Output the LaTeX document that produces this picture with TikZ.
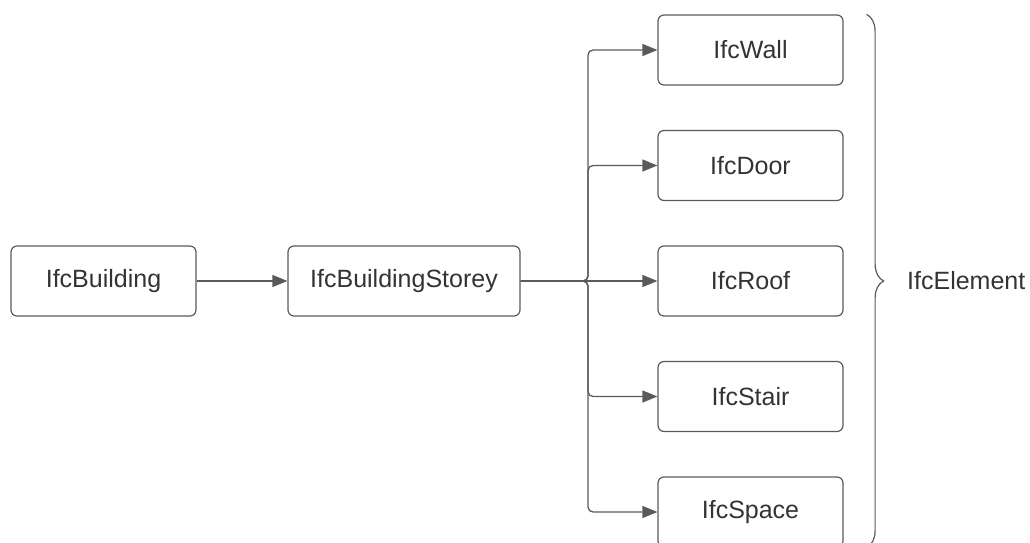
\documentclass[tikz,border=0pt]{standalone}
\usepackage{fontspec}
\setmainfont{Liberation Sans}
\usepackage{tikz}
\usetikzlibrary{arrows.meta,decorations.pathreplacing}

\definecolor{linegray}{HTML}{5A5A5A}
\definecolor{textgray}{HTML}{333333}

\begin{document}
\begin{tikzpicture}[x=1pt,y=1pt,
	ifcbox/.style={shape=rectangle,draw=linegray,line width=1.2pt,rounded corners=6pt,
		minimum width=185pt,minimum height=70pt,text=textgray,font=\fontsize{25}{29}\selectfont},
	arr/.style={-{Triangle[length=15pt,width=12pt]},draw=linegray,line width=1.3pt}]
	
	\useasboundingbox (0,0) rectangle (1030,-543);
	
	\node[ifcbox] (building) at (103.5, -281)   {IfcBuilding};
	\node[ifcbox,minimum width=232pt] (storey) at (404, -281) {IfcBuildingStorey};
	\node[ifcbox] (wall)  at (750.5, -50)    {IfcWall};
	\node[ifcbox] (door)  at (750.5, -165.5) {IfcDoor};
	\node[ifcbox] (roof)  at (750.5, -281)   {IfcRoof};
	\node[ifcbox] (stair) at (750.5, -396.5) {IfcStair};
	\node[ifcbox] (space) at (750.5, -512)   {IfcSpace};
	\coordinate (split) at (588, -281);
	
	\draw[arr] (building) -- (storey);
	\draw[arr] (storey.east) -- (roof.west);
	\draw[arr,rounded corners=5pt] (storey.east) -- (split) |- (wall.west);
	\draw[arr,rounded corners=5pt] (storey.east) -- (split) |- (door.west);
	\draw[arr,rounded corners=5pt] (storey.east) -- (split) |- (stair.west);
	\draw[arr,rounded corners=5pt] (storey.east) -- (split) |- (space.west);
	
	\draw[linegray,line width=1.2pt,decorate,decoration={brace,amplitude=17pt}]
		([xshift=23pt]wall.north east) -- ([xshift=23pt]space.south east);
	\node[anchor=west,text=textgray,font=\fontsize{25}{29}\selectfont,inner sep=0pt]
		(element) at (907, -281) {IfcElement};
	
\end{tikzpicture}
\end{document}
